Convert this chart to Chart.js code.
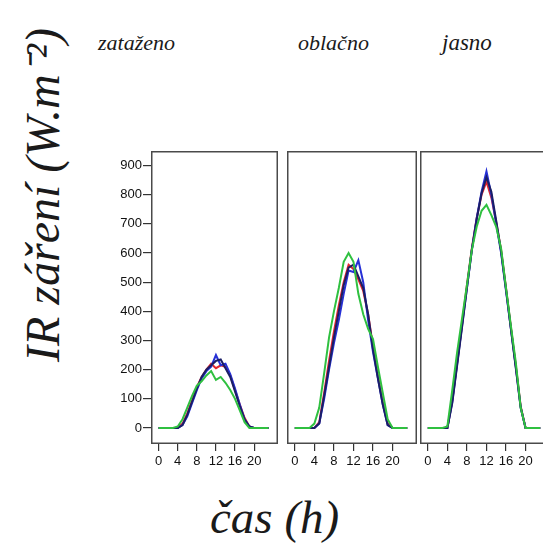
<!DOCTYPE html>
<html>
<head>
<meta charset="utf-8">
<script src="https://cdn.jsdelivr.net/npm/chart.js@4.4.1/dist/chart.umd.min.js"></script>
<style>
  html, body { margin: 0; padding: 0; background: #fff; overflow: hidden; width: 543px; height: 548px; }
  .wrap { position: relative; width: 543px; height: 548px; overflow: hidden; }
  canvas { position: absolute; }
  .hand { position: absolute; font-family: "Liberation Serif", serif; font-style: italic; color: #1a1a1a; white-space: nowrap; }
</style>
</head>
<body>
<div class="wrap">
  <div class="hand" style="left:98px; top:30px; font-size:22px;">zataženo</div>
  <div class="hand" style="left:298px; top:30px; font-size:22px;">oblačno</div>
  <div class="hand" style="left:442px; top:30px; font-size:23px;">jasno</div>
  <div class="hand" style="left:40px; top:195px; font-size:48px; transform: translate(-50%, -50%) rotate(-90deg);">IR záření (W.m⁻²)</div>
  <div class="hand" style="left:210px; top:490px; font-size:47px;">čas (h)</div>

  <canvas id="panel1" width="178" height="333" style="left:100px; top:141px;"></canvas>
  <canvas id="panel2" width="130" height="333" style="left:287px; top:141px;"></canvas>
  <canvas id="panel3" width="130" height="333" style="left:420px; top:141px;"></canvas>
</div>

<script>
// hodiny a popisky os
const hours = [0,1,2,3,4,5,6,7,8,9,10,11,12,13,14,15,16,17,18,19,20,21,22,23];
const xTicks = [0, 4, 8, 12, 16, 20];
const yTicks = [0, 100, 200, 300, 400, 500, 600, 700, 800, 900];
const panelTitles = ['zataženo', 'oblačno', 'jasno'];
// poradi: prvni je nahore
const seriesLabels = ['D', 'C', 'B', 'A'];
const seriesColors = ['#2fc040', '#1a1e66', '#2630d6', '#e3262e'];

// zataženo (W.m-2)
const zatazenoRed   = [0,0,0,0,0,15,50,95,140,175,200,220,205,215,210,180,130,80,35,5,0,0,0,0];
const zatazenoBlue  = [0,0,0,0,0,10,40,85,130,170,195,210,250,215,220,185,135,80,30,5,0,0,0,0];
const zatazenoNavy  = [0,0,0,0,0,10,45,90,135,175,200,215,230,235,205,175,125,75,30,5,0,0,0,0];
const zatazenoGreen = [0,0,0,0,5,30,70,110,145,160,180,195,165,175,155,130,100,60,20,0,0,0,0,0];

// oblačno
const oblacnoRed   = [0,0,0,0,0,20,120,230,330,420,500,560,545,510,470,390,280,180,90,15,0,0,0,0];
const oblacnoBlue  = [0,0,0,0,0,15,100,200,290,370,460,540,535,575,500,370,260,170,80,10,0,0,0,0];
const oblacnoNavy  = [0,0,0,0,0,15,110,210,310,400,490,550,560,520,480,390,270,170,80,10,0,0,0,0];
const oblacnoGreen = [0,0,0,0,15,70,187,310,400,480,570,600,570,460,390,340,305,210,120,30,0,0,0,0];

// jasno
const jasnoRed   = [0,0,0,0,0,95,225,355,490,615,720,800,845,790,705,610,480,345,215,75,0,0,0,0];
const jasnoBlue  = [0,0,0,0,0,90,220,350,480,610,720,810,880,800,700,600,470,340,210,70,0,0,0,0];
const jasnoNavy  = [0,0,0,0,0,85,215,345,480,610,715,805,860,810,710,605,475,340,205,70,0,0,0,0];
const jasnoGreen = [0,0,0,0,5,130,260,375,490,610,690,745,765,730,690,615,480,350,225,70,0,0,0,0];

// ramecek kolem grafu
const boxPlugin = {
  id: 'box',
  afterDraw(chart) {
    const a = chart.chartArea;
    const c = chart.ctx;
    c.save();
    c.strokeStyle = '#4a4a4a';
    c.lineWidth = 1.5;
    c.strokeRect(a.left + 0.75, a.top + 0.75, a.right - a.left - 1.5, a.bottom - a.top - 1.5);
    c.restore();
  }
};

const tickFont = { family: 'Liberation Sans', size: 13 };

function makePanel(id, title, sets, showY) {
  return new Chart(document.getElementById(id), {
    type: 'line',
    data: {
      datasets: sets.map((vals, i) => ({
        label: seriesLabels[i],
        data: hours.map((h, j) => ({ x: h, y: vals[j] })),
        borderColor: seriesColors[i],
        borderWidth: 2,
        pointRadius: 0,
        tension: 0,
        fill: false
      }))
    },
    options: {
      responsive: false,
      animation: false,
      layout: { padding: { top: 10, left: 0, right: 0, bottom: 0 } },
      plugins: {
        legend: { display: false },
        tooltip: { enabled: false },
        title: { display: false, text: title }
      },
      scales: {
        x: {
          type: 'linear',
          min: -1.6,
          max: 25,
          afterBuildTicks: axis => { axis.ticks = xTicks.map(v => ({ value: v })); },
          afterFit: s => { s.height = 30; },
          grid: { drawOnChartArea: false, tickLength: 7, color: '#333', lineWidth: 1.2 },
          border: { display: false },
          ticks: { color: '#111', font: tickFont, padding: 3, maxRotation: 0, autoSkip: false }
        },
        y: {
          display: showY,
          min: -55,
          max: 950,
          afterBuildTicks: axis => { axis.ticks = yTicks.map(v => ({ value: v })); },
          afterFit: s => { s.width = showY ? 51 : 0; },
          grid: { drawOnChartArea: false, tickLength: 8, color: '#333', lineWidth: 1.2 },
          border: { display: false },
          ticks: { color: '#111', font: tickFont, padding: 1, autoSkip: false }
        }
      }
    },
    plugins: [boxPlugin]
  });
}

// zelena nahore, cervena dole
makePanel('panel1', panelTitles[0], [zatazenoGreen, zatazenoNavy, zatazenoBlue, zatazenoRed], true);
makePanel('panel2', panelTitles[1], [oblacnoGreen, oblacnoNavy, oblacnoBlue, oblacnoRed], false);
makePanel('panel3', panelTitles[2], [jasnoGreen, jasnoNavy, jasnoBlue, jasnoRed], false);
</script>
</body>
</html>
